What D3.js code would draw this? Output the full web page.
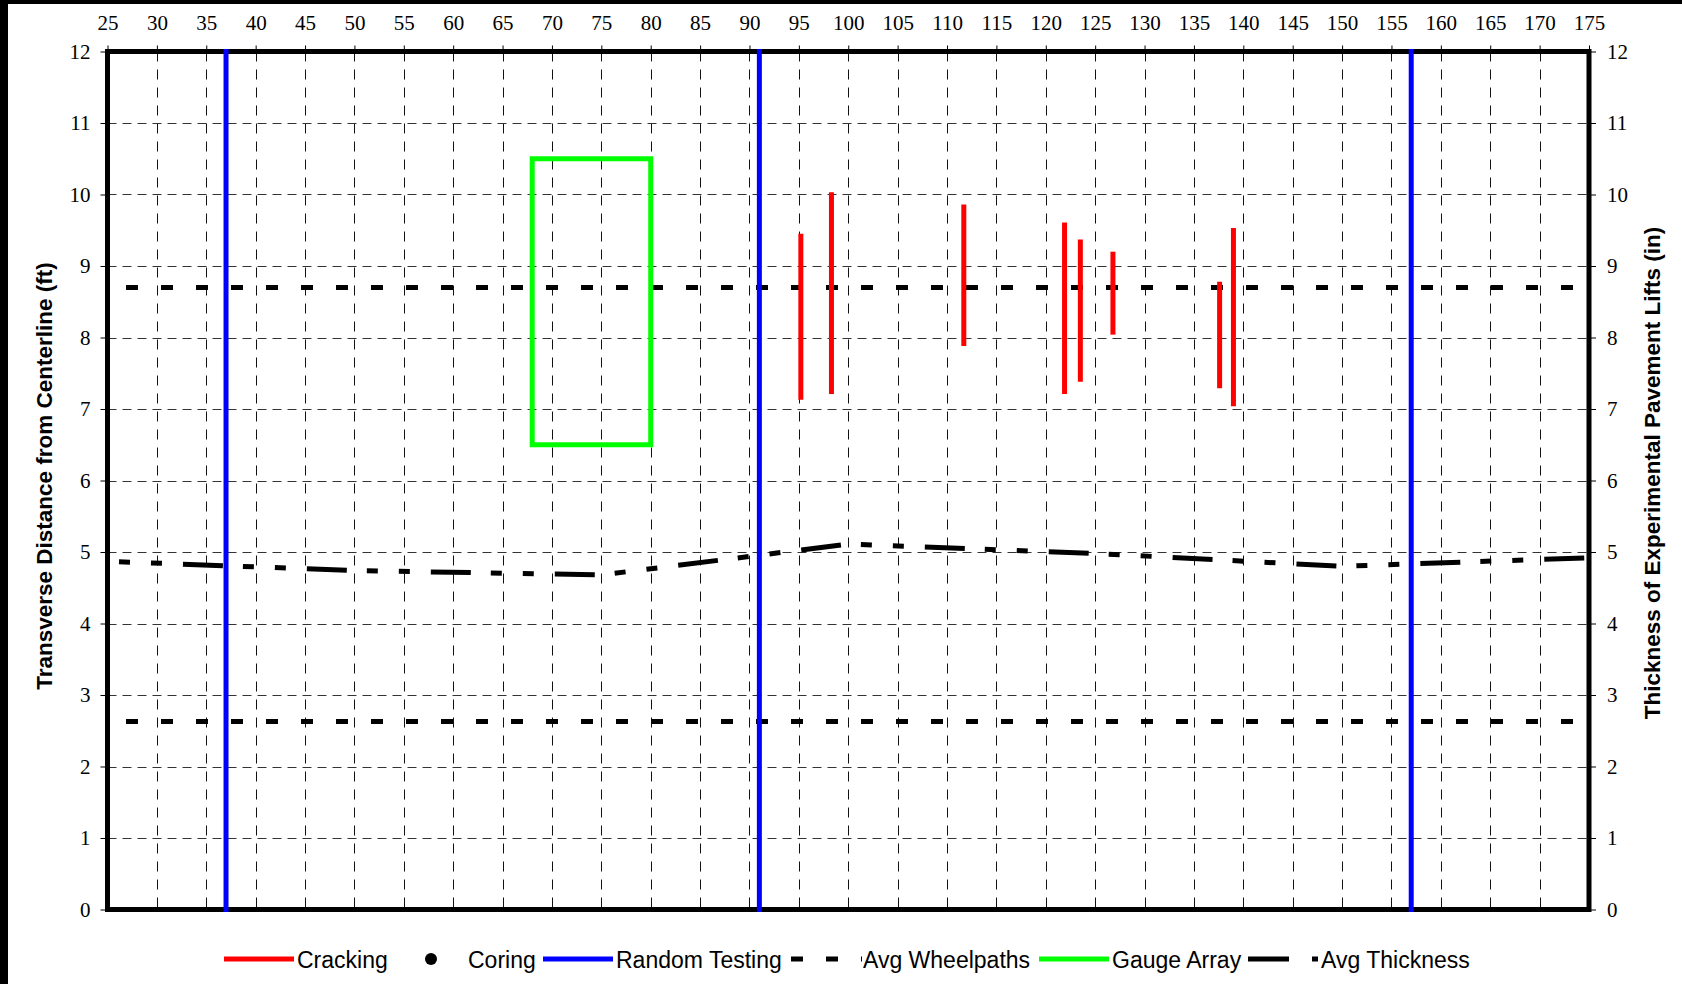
<!DOCTYPE html>
<html>
<head>
<meta charset="utf-8">
<script src="https://cdn.jsdelivr.net/npm/d3@7"></script>
<style>
  html, body { margin: 0; padding: 0; background: #fff; }
  svg { display: block; }
</style>
</head>
<body>
<svg id="chart" width="1682" height="984"></svg>
<script>
// ---- data ----
const xTicks = [25,30,35,40,45,50,55,60,65,70,75,80,85,90,95,100,105,110,115,120,125,130,135,140,145,150,155,160,165,170,175];
const yTicks = [0,1,2,3,4,5,6,7,8,9,10,11,12];

// Cracking: station (ft) and transverse extent (ft)
const crackStation = [95.2, 98.3, 111.7, 121.9, 123.5, 126.8, 137.6, 139.0];
const crackTop     = [9.45, 10.03, 9.86, 9.61, 9.37, 9.20, 8.78, 9.53];
const crackBottom  = [7.13, 7.21, 7.88, 7.21, 7.38, 8.04, 7.29, 7.04];

// Coring locations (none recorded)
const coringStation = [];
const coringOffset = [];

// Random testing stations
const randomStation = [37, 91, 157];

// Average wheelpath offsets (ft)
const wheelpathOffset = [2.63, 8.70];

// Gauge array footprint
const gaugeStation = [68, 80];
const gaugeOffset = [6.5, 10.5];

// Average thickness of experimental lifts (in)
const thickStation = [25, 50, 75, 100, 125, 150, 175];
const thickValue   = [4.87, 4.74, 4.68, 5.11, 4.98, 4.80, 4.92];

const legendNames = ["Cracking", "Coring", "Random Testing", "Avg Wheelpaths", "Gauge Array", "Avg Thickness"];

// ---- layout ----
const svg = d3.select("#chart");
const L = 107.5, R = 1589, T = 51.5, B = 909.5;
const x = d3.scaleLinear().domain([25, 175]).range([L, R]);
const y = d3.scaleLinear().domain([0, 12]).range([B, T]);
const y2 = d3.scaleLinear().domain([0, 12]).range([B, T]);

const serif = "'Liberation Serif','Times New Roman',serif";
const sans = "'Liberation Sans',Arial,sans-serif";

// black edges of the page
svg.append("rect").attr("x", 0).attr("y", 0).attr("width", 8).attr("height", 984).attr("fill", "#000");
svg.append("rect").attr("x", 0).attr("y", 0).attr("width", 1682).attr("height", 4).attr("fill", "#000");

// gridlines
const grid = svg.append("g");
grid.selectAll("line.v").data(xTicks.filter(d => d > 25 && d < 175)).join("line")
  .attr("x1", d => Math.round(x(d)) + 0.5).attr("x2", d => Math.round(x(d)) + 0.5)
  .attr("y1", T).attr("y2", B)
  .attr("stroke", "#111").attr("stroke-width", 1).attr("stroke-dasharray", "10,8");
grid.selectAll("line.h").data(yTicks.filter(d => d > 0 && d < 12)).join("line")
  .attr("x1", L).attr("x2", R)
  .attr("y1", d => Math.round(y(d)) + 0.5).attr("y2", d => Math.round(y(d)) + 0.5)
  .attr("stroke", "#333").attr("stroke-width", 1).attr("stroke-dasharray", "9,6");

// axes
function styleAxis(g) {
  g.select(".domain").remove();
  g.selectAll(".tick line").attr("stroke", "#000").attr("stroke-width", 1);
  g.selectAll(".tick text").attr("font-family", serif).attr("font-size", 21).attr("fill", "#000");
}
svg.append("g").attr("transform", `translate(0,${T})`)
  .call(d3.axisTop(x).tickValues(xTicks).tickSize(6).tickPadding(16).tickFormat(d3.format("d")))
  .call(styleAxis);
svg.append("g").attr("transform", `translate(${L},0)`)
  .call(d3.axisLeft(y).tickValues(yTicks).tickSize(7).tickPadding(10).tickFormat(d3.format("d")))
  .call(styleAxis);
svg.append("g").attr("transform", `translate(${R},0)`)
  .call(d3.axisRight(y2).tickValues(yTicks).tickSize(7).tickPadding(11).tickFormat(d3.format("d")))
  .call(styleAxis);

// axis titles
svg.append("text")
  .attr("transform", "translate(52,476) rotate(-90)")
  .attr("text-anchor", "middle").attr("font-family", sans).attr("font-weight", "bold")
  .attr("font-size", 22.5).text("Transverse Distance from Centerline (ft)");
svg.append("text")
  .attr("transform", "translate(1660,473) rotate(-90)")
  .attr("text-anchor", "middle").attr("font-family", sans).attr("font-weight", "bold")
  .attr("font-size", 22.5).text("Thickness of Experimental Pavement Lifts (in)");

// series
const plot = svg.append("g");
plot.append("defs").append("clipPath").attr("id", "plotclip")
  .append("rect").attr("x", L).attr("y", T).attr("width", R - L).attr("height", B - T);

const wheelDash = "12,23";
plot.selectAll("line.wheel").data(wheelpathOffset).join("line")
  .attr("x1", x(25)).attr("x2", x(175))
  .attr("y1", d => y(d)).attr("y2", d => y(d))
  .attr("stroke", "#000").attr("stroke-width", 5)
  .attr("stroke-dasharray", wheelDash).attr("stroke-dashoffset", 16.5);

const thickDash = "40,20,11,21,11,21";
const thickLine = d3.line().x(d => x(d[0])).y(d => y2(d[1]));
plot.append("path")
  .datum(thickStation.map((s, i) => [s, thickValue[i]]))
  .attr("d", thickLine)
  .attr("fill", "none").attr("stroke", "#000").attr("stroke-width", 5)
  .attr("stroke-dasharray", thickDash).attr("stroke-dashoffset", 48.5)
  .attr("clip-path", "url(#plotclip)");

plot.append("rect")
  .attr("x", x(gaugeStation[0])).attr("y", y(gaugeOffset[1]))
  .attr("width", x(gaugeStation[1]) - x(gaugeStation[0]))
  .attr("height", y(gaugeOffset[0]) - y(gaugeOffset[1]))
  .attr("fill", "none").attr("stroke", "#00ff00").attr("stroke-width", 5);

plot.selectAll("line.crack").data(crackStation).join("line")
  .attr("x1", d => x(d)).attr("x2", d => x(d))
  .attr("y1", (d, i) => y(crackTop[i])).attr("y2", (d, i) => y(crackBottom[i]))
  .attr("stroke", "#ff0000").attr("stroke-width", 5);

plot.selectAll("circle.core").data(coringStation).join("circle")
  .attr("cx", d => x(d)).attr("cy", (d, i) => y(coringOffset[i])).attr("r", 6).attr("fill", "#000");

// plot frame
svg.append("rect").attr("x", L).attr("y", T).attr("width", R - L).attr("height", B - T)
  .attr("fill", "none").attr("stroke", "#000").attr("stroke-width", 5);

// random testing lines sit above the frame
svg.selectAll("line.random").data(randomStation).join("line")
  .attr("x1", d => x(d)).attr("x2", d => x(d))
  .attr("y1", y(12) - 2.5).attr("y2", y(0) + 2.5)
  .attr("stroke", "#0000ff").attr("stroke-width", 5);

// legend
const legend = svg.append("g");
const ly = 959;
const legendX = [224, 398, 543, 791, 1039, 1248];
const sampleW = 70;
legendNames.forEach((name, i) => {
  const g = legend.append("g");
  const x0 = legendX[i];
  if (i === 0) g.append("line").attr("x1", x0).attr("x2", x0 + sampleW).attr("y1", ly).attr("y2", ly).attr("stroke", "#ff0000").attr("stroke-width", 5);
  if (i === 1) g.append("circle").attr("cx", 431).attr("cy", ly).attr("r", 6).attr("fill", "#000");
  if (i === 2) g.append("line").attr("x1", x0).attr("x2", x0 + sampleW).attr("y1", ly).attr("y2", ly).attr("stroke", "#0000ff").attr("stroke-width", 5);
  if (i === 3) g.append("line").attr("x1", x0).attr("x2", x0 + sampleW + 1).attr("y1", ly).attr("y2", ly).attr("stroke", "#000").attr("stroke-width", 5).attr("stroke-dasharray", wheelDash);
  if (i === 4) g.append("line").attr("x1", x0).attr("x2", x0 + sampleW).attr("y1", ly).attr("y2", ly).attr("stroke", "#00ff00").attr("stroke-width", 5);
  if (i === 5) g.append("line").attr("x1", x0).attr("x2", x0 + sampleW).attr("y1", ly).attr("y2", ly).attr("stroke", "#000").attr("stroke-width", 5).attr("stroke-dasharray", "41,23,11,23");
  const tx = (i === 1) ? 468 : x0 + sampleW + (i === 3 ? 2 : 3);
  g.append("text").attr("x", tx).attr("y", ly + 9).attr("font-family", sans).attr("font-size", 23)
    .attr("fill", "#000").text(name);
});
</script>
</body>
</html>
